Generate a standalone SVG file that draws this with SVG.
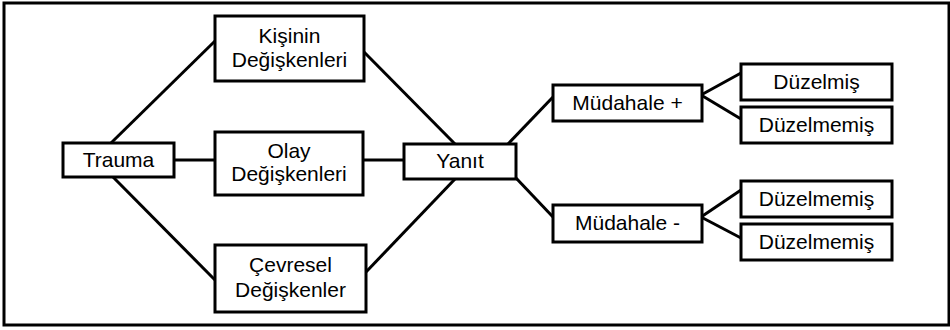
<svg xmlns="http://www.w3.org/2000/svg" width="950" height="330" viewBox="0 0 950 330">
<style>
  .box { fill: #ffffff; stroke: #000000; stroke-width: 3; }
  .lbl { font-family: "Liberation Sans", Arial, sans-serif; font-size: 21px; fill: #000000; text-anchor: middle; }
  .edge { stroke: #000000; stroke-width: 3; fill: none; }
  .frame { fill: none; stroke: #000000; stroke-width: 3; }
</style>
<rect class="frame" x="4" y="3" width="945" height="322"/>
<g id="connectors">
  <line class="edge" x1="111" y1="143" x2="215" y2="41"/>
  <line class="edge" x1="174" y1="160" x2="215" y2="160"/>
  <line class="edge" x1="113" y1="177" x2="215" y2="280"/>
  <line class="edge" x1="364" y1="52" x2="455" y2="144"/>
  <line class="edge" x1="363" y1="160" x2="404" y2="160"/>
  <line class="edge" x1="366" y1="272" x2="455" y2="179"/>
  <line class="edge" x1="508" y1="144" x2="553" y2="97"/>
  <line class="edge" x1="516" y1="178" x2="553" y2="217"/>
  <line class="edge" x1="701" y1="95" x2="741" y2="73"/>
  <line class="edge" x1="701" y1="95" x2="741" y2="119"/>
  <line class="edge" x1="701" y1="217" x2="741" y2="190"/>
  <line class="edge" x1="701" y1="217" x2="741" y2="238"/>
</g>
<g id="trauma">
  <rect class="box" x="63" y="143" width="111" height="34"/>
  <text class="lbl" x="118.5" y="167">Trauma</text>
</g>
<g id="kisinin">
  <rect class="box" x="215" y="16" width="149" height="65"/>
  <text class="lbl" x="289.5" y="43">Kişinin</text>
  <text class="lbl" x="289.5" y="67">Değişkenleri</text>
</g>
<g id="olay">
  <rect class="box" x="215" y="132" width="148" height="63"/>
  <text class="lbl" x="289" y="158">Olay</text>
  <text class="lbl" x="289" y="181">Değişkenleri</text>
</g>
<g id="cevresel">
  <rect class="box" x="215" y="245" width="151" height="67"/>
  <text class="lbl" x="290.5" y="272">Çevresel</text>
  <text class="lbl" x="290.5" y="297">Değişkenler</text>
</g>
<g id="yanit">
  <rect class="box" x="404" y="144" width="112" height="35"/>
  <text class="lbl" x="460" y="168">Yanıt</text>
</g>
<g id="mudahale-plus">
  <rect class="box" x="553" y="85" width="149" height="36"/>
  <text class="lbl" x="627.5" y="110">Müdahale +</text>
</g>
<g id="mudahale-minus">
  <rect class="box" x="553" y="205" width="149" height="37"/>
  <text class="lbl" x="627.5" y="230">Müdahale -</text>
</g>
<g id="duzelmis">
  <rect class="box" x="741" y="64" width="151" height="36"/>
  <text class="lbl" x="816.5" y="89">Düzelmiş</text>
</g>
<g id="duzelmemis1">
  <rect class="box" x="741" y="107" width="151" height="36"/>
  <text class="lbl" x="816.5" y="132">Düzelmemiş</text>
</g>
<g id="duzelmemis2">
  <rect class="box" x="741" y="181" width="151" height="36"/>
  <text class="lbl" x="816.5" y="206">Düzelmemiş</text>
</g>
<g id="duzelmemis3">
  <rect class="box" x="741" y="224" width="151" height="36"/>
  <text class="lbl" x="816.5" y="249">Düzelmemiş</text>
</g>
</svg>
